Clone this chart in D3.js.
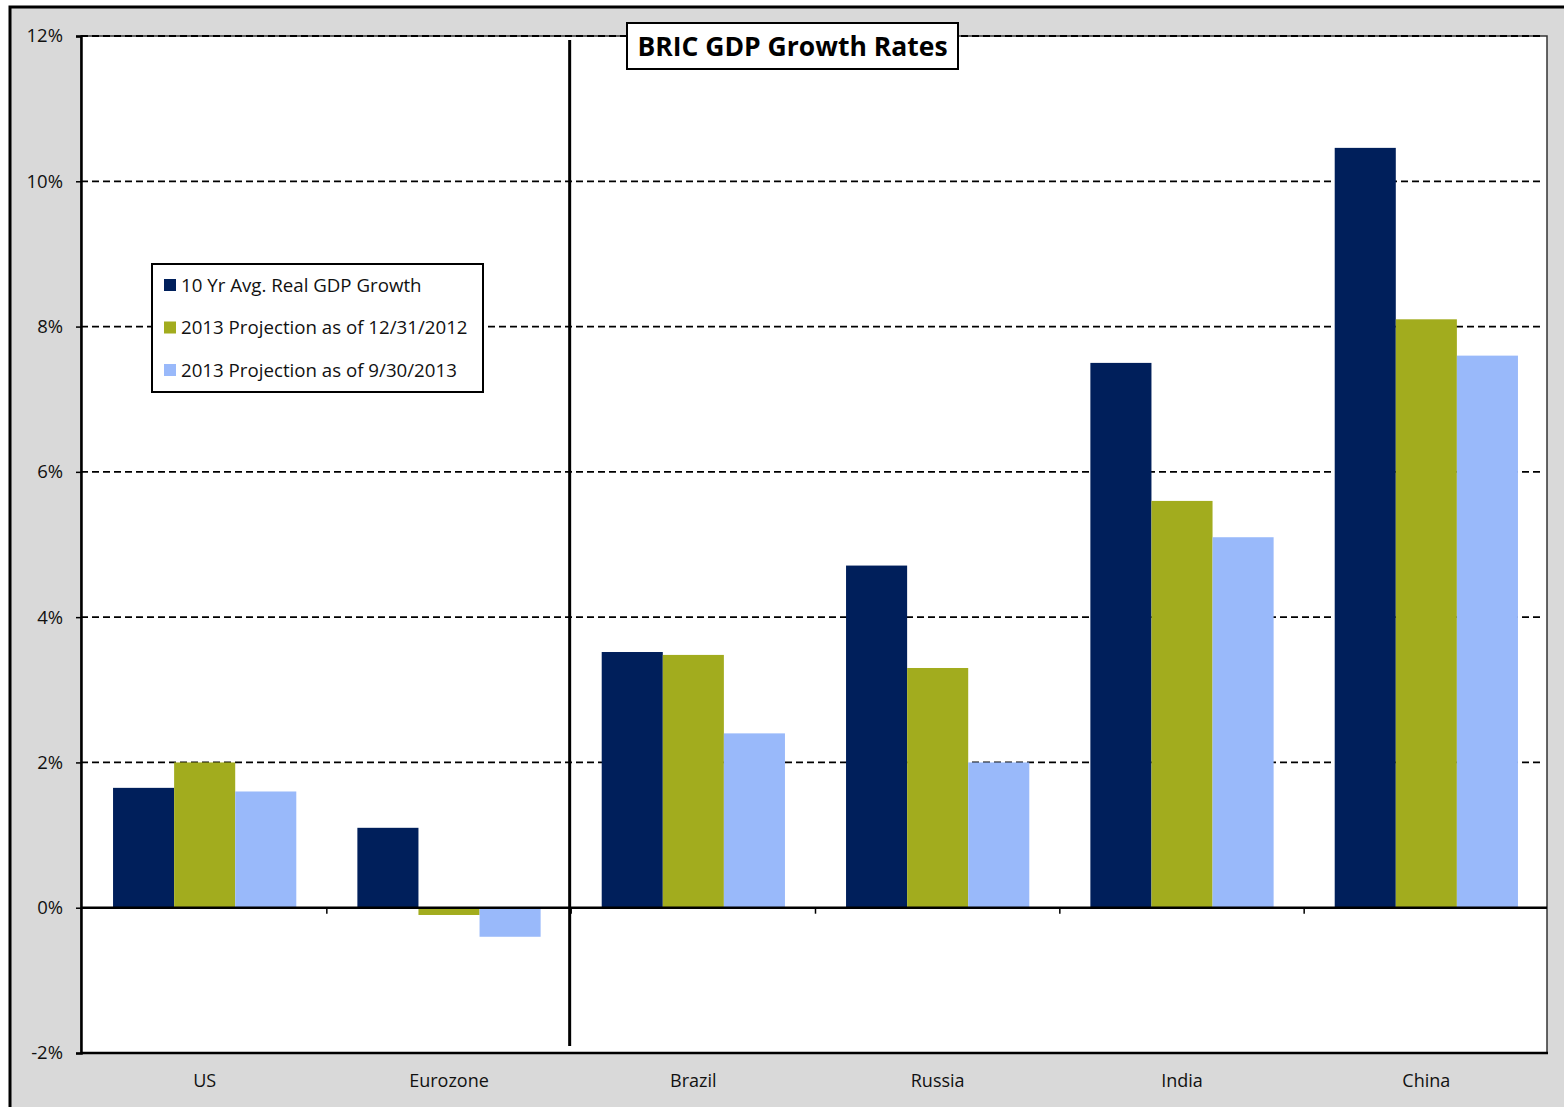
<!DOCTYPE html>
<html><head><meta charset="utf-8">
<script src="https://cdn.jsdelivr.net/npm/d3@7/dist/d3.min.js"></script>
<style>
html,body{margin:0;padding:0;background:#fff;}
svg{display:block;font-family:"Open Sans",Lato,sans-serif;}
</style></head>
<body>
<svg id="chart" width="1564" height="1107"></svg>
<script>
const categories = ["US","Eurozone","Brazil","Russia","India","China"];
const seriesNames = ["10 Yr Avg. Real GDP Growth","2013 Projection as of 12/31/2012","2013 Projection as of 9/30/2013"];
const avg10yr   = [1.65, 1.10, 3.52, 4.71, 7.50, 10.46];
const proj2012  = [2.00, -0.10, 3.48, 3.30, 5.60, 8.10];
const proj2013  = [1.60, -0.40, 2.40, 2.00, 5.10, 7.60];
const yTicks = [-2, 0, 2, 4, 6, 8, 10, 12];
const colors = ["#001f5b", "#a2ac1e", "#99b9fa"];
const title = "BRIC GDP Growth Rates";

const series = [avg10yr, proj2012, proj2013];
const svg = d3.select("#chart");
const W = 1564, H = 1107;
const m = {left: 81, right: 1547, top: 36, bottom: 1053};

// outer gray frame
svg.append("rect").attr("x", 10).attr("y", 7).attr("width", W).attr("height", H)
  .attr("fill", "#d9d9d9").attr("stroke", "#000").attr("stroke-width", 3);

const x = d3.scaleBand().domain(categories).range([m.left + 1.5, m.right + 1.5]).paddingInner(0).paddingOuter(0);
const xs = d3.scaleBand().domain([0,1,2]).range([0, x.bandwidth()]).paddingOuter(0.5).paddingInner(0);
const y = d3.scaleLinear().domain([-2, 12]).range([m.bottom, m.top]);

// plot area
svg.append("rect").attr("x", m.left).attr("y", m.top).attr("width", m.right - m.left).attr("height", m.bottom - m.top)
  .attr("fill", "#fff").attr("stroke", "#333").attr("stroke-width", 1.5);

// gridlines
svg.append("g").selectAll("line").data(yTicks.filter(t => t > 0)).join("line")
  .attr("x1", m.left).attr("x2", m.right - 4)
  .attr("y1", d => y(d)).attr("y2", d => y(d))
  .attr("stroke", "#000").attr("stroke-width", 1.8).attr("stroke-dasharray", "7,4");

// bars
const groups = svg.append("g").selectAll("g").data(categories).join("g")
  .attr("transform", d => `translate(${x(d)},0)`);
groups.selectAll("rect").data((c, i) => series.map((s, k) => ({k, v: s[i]}))).join("rect")
  .attr("x", d => xs(d.k)).attr("width", xs.bandwidth())
  .attr("y", d => y(Math.max(0, d.v))).attr("height", d => Math.abs(y(d.v) - y(0)))
  .attr("fill", d => colors[d.k]);

// y axis
const yAxis = svg.append("g").attr("transform", `translate(${m.left},0)`)
  .call(d3.axisLeft(y).tickValues(yTicks).tickFormat(d => d + "%").tickSize(5).tickPadding(13));
yAxis.select(".domain").attr("stroke", "#000").attr("stroke-width", 2.5);
yAxis.selectAll(".tick line").attr("stroke", "#000").attr("stroke-width", 1.5);
yAxis.selectAll(".tick text").attr("font-size", 18.5).attr("fill", "#111").attr("font-family", "'Open Sans', sans-serif");

// bottom border
svg.append("line").attr("x1", m.left).attr("x2", m.right + 1).attr("y1", m.bottom).attr("y2", m.bottom)
  .attr("stroke", "#000").attr("stroke-width", 2.5);

// zero axis with category ticks
const xAxis = svg.append("g").attr("transform", `translate(0,${y(0)})`)
  .call(d3.axisBottom(x).tickSize(0).tickFormat(""));
xAxis.select(".domain").attr("stroke", "#000").attr("stroke-width", 2.5);
xAxis.select(".domain").attr("d", `M${m.left},0H${m.right}`);
svg.append("g").selectAll("line").data(categories.slice(1)).join("line")
  .attr("x1", d => x(d)).attr("x2", d => x(d))
  .attr("y1", y(0)).attr("y2", y(0) + 6)
  .attr("stroke", "#000").attr("stroke-width", 1.5);

// category labels
svg.append("g").selectAll("text").data(categories).join("text")
  .attr("x", d => x(d) + x.bandwidth() / 2).attr("y", 1087)
  .attr("text-anchor", "middle").attr("font-size", 18).attr("fill", "#111")
  .text(d => d);

// separator line between Eurozone and Brazil
svg.append("line").attr("x1", x("Brazil") - 1.5).attr("x2", x("Brazil") - 1.5)
  .attr("y1", 40).attr("y2", 1046).attr("stroke", "#000").attr("stroke-width", 3);

// title box
const tb = svg.append("g");
tb.append("rect").attr("x", 627).attr("y", 23).attr("width", 331).attr("height", 46)
  .attr("fill", "#fff").attr("stroke", "#000").attr("stroke-width", 2);
tb.append("text").attr("x", 792.5).attr("y", 56).attr("text-anchor", "middle")
  .attr("font-size", 26.5).attr("font-weight", "bold").attr("fill", "#000").text(title);

// legend
const lg = svg.append("g");
lg.append("rect").attr("x", 152).attr("y", 264).attr("width", 331).attr("height", 128)
  .attr("fill", "#fff").attr("stroke", "#000").attr("stroke-width", 2);
const li = lg.selectAll("g").data(seriesNames).join("g")
  .attr("transform", (d, i) => `translate(164,${285 + i * 42.5})`);
li.append("rect").attr("x", 0).attr("y", -6).attr("width", 12).attr("height", 12)
  .attr("fill", (d, i) => colors[i]);
li.append("text").attr("x", 17).attr("y", 6.5).attr("font-size", 18.7).attr("fill", "#111").text(d => d);
</script>
</body></html>
